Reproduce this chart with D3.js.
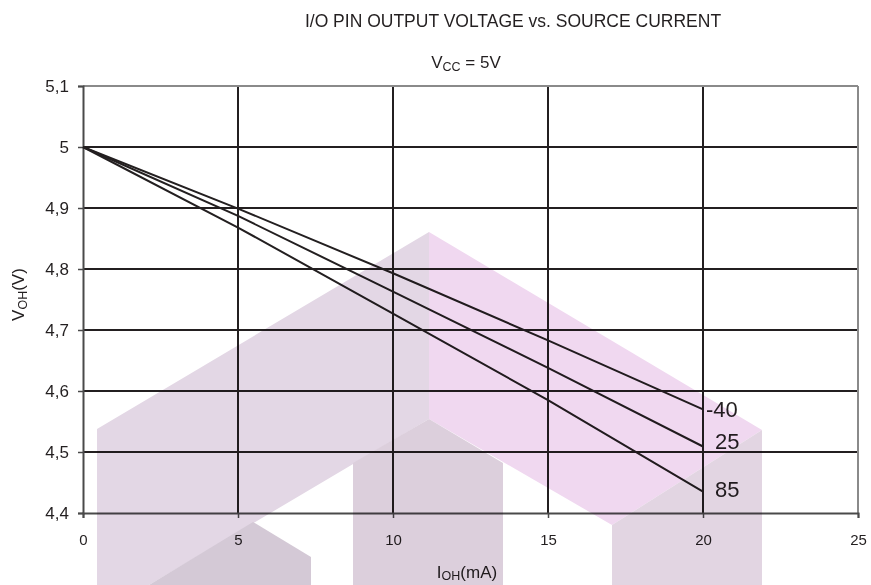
<!DOCTYPE html>
<html>
<head>
<meta charset="utf-8">
<script src="https://cdn.jsdelivr.net/npm/d3@7"></script>
<style>
  html, body { margin: 0; padding: 0; background: #fff; }
  svg { display: block; font-family: "Liberation Sans", Arial, Helvetica, sans-serif; }
</style>
</head>
<body>
<svg id="chart" width="871" height="585"></svg>
<script>
// ---- data ----
const current = [0, 5, 10, 15, 20];               // I_OH (mA)
const seriesNames = ["-40", "25", "85"];          // temperature labels
const vM40 = [5.0, 4.899, 4.793, 4.683, 4.570];   // V_OH at -40
const v25  = [5.0, 4.887, 4.763, 4.638, 4.509];   // V_OH at 25
const v85  = [5.0, 4.868, 4.727, 4.585, 4.435];   // V_OH at 85
const xTicks = [0, 5, 10, 15, 20, 25];
const yTicks = [4.4, 4.5, 4.6, 4.7, 4.8, 4.9, 5.0, 5.1];

const title = "I/O PIN OUTPUT VOLTAGE vs. SOURCE CURRENT";

// ---- layout ----
const W = 871, H = 585;
const m = { left: 83, top: 86, right: 13, bottom: 72 };
const iw = W - m.left - m.right, ih = H - m.top - m.bottom;
const ink = "#231f20";

const svg = d3.select("#chart");
const x = d3.scaleLinear().domain([0, 25]).range([m.left, m.left + iw]);
const y = d3.scaleLinear().domain([4.4, 5.1]).range([m.top + ih, m.top]);
const fmt = v => (Math.round(v * 10) / 10).toString().replace(".", ",");

// gridlines
const grid = svg.append("g");
grid.selectAll("line.h").data(yTicks.filter(v => v > 4.45 && v < 5.05)).join("line")
  .attr("x1", x(0)).attr("x2", x(25))
  .attr("y1", d => y(d)).attr("y2", d => y(d))
  .attr("stroke", ink).attr("stroke-width", 2);
grid.selectAll("line.v").data(xTicks.filter(v => v > 0 && v < 25)).join("line")
  .attr("y1", y(5.1)).attr("y2", y(4.4))
  .attr("x1", d => x(d)).attr("x2", d => x(d))
  .attr("stroke", ink).attr("stroke-width", 2);
// frame: top and right gray
grid.append("line").attr("x1", x(0)).attr("x2", x(25)).attr("y1", y(5.1)).attr("y2", y(5.1))
  .attr("stroke", "#8a8a8a").attr("stroke-width", 2);
grid.append("line").attr("x1", x(25)).attr("x2", x(25)).attr("y1", y(5.1)).attr("y2", y(4.4))
  .attr("stroke", "#8a8a8a").attr("stroke-width", 2);

// axes
const yAxis = svg.append("g").attr("transform", `translate(${x(0)},0)`)
  .call(d3.axisLeft(y).tickValues(yTicks).tickFormat(fmt).tickSize(5).tickPadding(9));
const xAxis = svg.append("g").attr("transform", `translate(0,${y(4.4)})`)
  .call(d3.axisBottom(x).tickValues(xTicks).tickFormat(d => d).tickSize(5).tickPadding(16));
[yAxis, xAxis].forEach(a => {
  a.select(".domain").attr("stroke", "#4a4a4a").attr("stroke-width", 2);
  a.selectAll(".tick line").attr("stroke", "#4a4a4a").attr("stroke-width", 1.5);
  a.selectAll("text").attr("fill", ink).attr("font-family", "Liberation Sans, Arial, sans-serif");
});
yAxis.selectAll("text").attr("font-size", 17);
xAxis.selectAll("text").attr("font-size", 15);

// lines
const seriesVals = [vM40, v25, v85];
const line = d3.line().x((d, i) => x(current[i])).y(d => y(d));
svg.append("g").selectAll("path").data(seriesVals).join("path")
  .attr("d", line).attr("fill", "none").attr("stroke", ink).attr("stroke-width", 2);

// series labels at the end points
const labelDx = [3, 12, 12];
const labelDy = [0, -5, -2];
svg.append("g").selectAll("text").data(seriesVals).join("text")
  .attr("x", (d, i) => x(current[current.length - 1]) + labelDx[i])
  .attr("y", (d, i) => y(d[d.length - 1]) + labelDy[i])
  .attr("dy", "0.35em")
  .attr("font-size", 22).attr("fill", ink)
  .text((d, i) => seriesNames[i]);

// title
svg.append("text").attr("x", 513).attr("y", 27).attr("text-anchor", "middle")
  .attr("font-size", 17.5).attr("fill", ink).text(title);

// subtitle V_CC = 5V
const sub = svg.append("text").attr("x", 466).attr("y", 68).attr("text-anchor", "middle")
  .attr("font-size", 17).attr("fill", ink);
sub.append("tspan").text("V");
sub.append("tspan").attr("font-size", 12.5).attr("dy", 3).text("CC");
sub.append("tspan").attr("dy", -3).text(" = 5V");

// y label
const yl = svg.append("text").attr("transform", `translate(24,${(y(4.4) + y(5.1)) / 2 - 5}) rotate(-90)`)
  .attr("text-anchor", "middle").attr("font-size", 17).attr("fill", ink);
yl.append("tspan").text("V");
yl.append("tspan").attr("font-size", 12.5).attr("dy", 3).text("OH");
yl.append("tspan").attr("dy", -3).text("(V)");

// x label
const xl = svg.append("text").attr("x", 467).attr("y", 578).attr("text-anchor", "middle")
  .attr("font-size", 17).attr("fill", ink);
xl.append("tspan").text("I");
xl.append("tspan").attr("font-size", 12.5).attr("dy", 2).text("OH");
xl.append("tspan").attr("dy", -2).text("(mA)");

// decorative background watermark (not data), multiplied over the chart
const watermark = [
  { fill: "#e3d7e5", pts: [[97,429],[429,232],[429,419],[149,585],[97,585]] },
  { fill: "#f0d8f0", pts: [[429,232],[762,430],[612,525],[429,419]] },
  { fill: "#dccfdc", pts: [[353,463],[429,419],[503,463],[503,585],[353,585]] },
  { fill: "#e2d5e2", pts: [[612,525],[762,430],[762,585],[612,585]] },
  { fill: "#d4c9d6", pts: [[149,585],[253,522],[311,557],[311,585]] }
];
svg.append("g").style("mix-blend-mode", "multiply").style("pointer-events", "none")
  .selectAll("polygon").data(watermark).join("polygon")
  .attr("points", d => d.pts.map(p => p.join(",")).join(" "))
  .attr("fill", d => d.fill);
</script>
</body>
</html>
